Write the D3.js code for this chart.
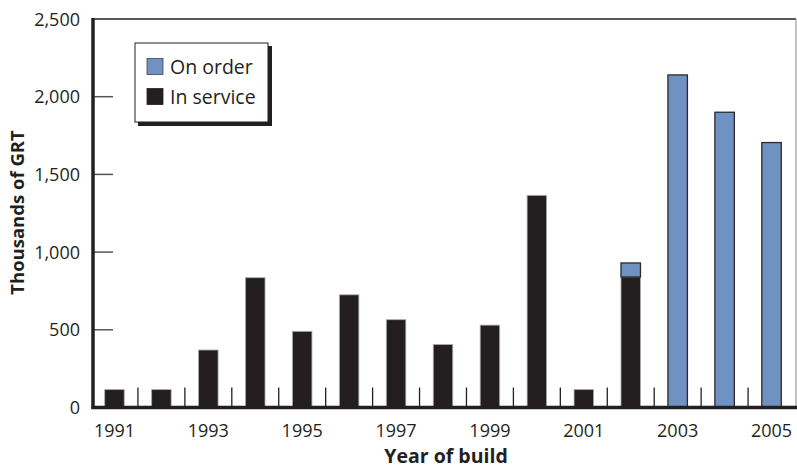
<!DOCTYPE html>
<html><head><meta charset="utf-8">
<script src="https://cdn.jsdelivr.net/npm/d3@7"></script>
<style>body{margin:0;background:#fff}svg{display:block}text{font-family:"Open Sans",sans-serif;fill:#231f20}</style>
</head><body>
<svg id="c" width="797" height="469"></svg>
<script>
const years = [1991,1992,1993,1994,1995,1996,1997,1998,1999,2000,2001,2002,2003,2004,2005];
const inService = [115,115,370,835,490,725,565,405,530,1365,115,840,0,0,0];
const onOrder = [0,0,0,0,0,0,0,0,0,0,0,90,2140,1900,1705];
const yTicks = [0,500,1000,1500,2000,2500];
const xLabels = [1991,1993,1995,1997,1999,2001,2003,2005];
const seriesNames = ["On order","In service"];
const colors = {"On order":"#7092c2","In service":"#231f20"};

const svg = d3.select("#c");
const L=93, R=796, T=19, B=407.5;
const x = d3.scaleBand().domain(years).range([91,795]).paddingInner(0.585).paddingOuter(0.2925);
const y = d3.scaleLinear().domain([0,2500]).range([B,T]);

// frame top and right
svg.append("line").attr("x1",L).attr("x2",R).attr("y1",T).attr("y2",T).attr("stroke","#231f20").attr("stroke-width",1.6);
svg.append("line").attr("x1",R).attr("x2",R).attr("y1",T).attr("y2",B).attr("stroke","#999").attr("stroke-width",1.2);

// bars
const data = years.map((yr,i)=>({yr, s:inService[i], o:onOrder[i]}));
svg.selectAll(".bs").data(data.filter(d=>d.s>0)).enter().append("rect")
  .attr("x",d=>x(d.yr)).attr("width",x.bandwidth())
  .attr("y",d=>y(d.s)).attr("height",d=>y(0)-y(d.s))
  .attr("fill",colors["In service"]).attr("stroke","#aaa").attr("stroke-width",0.8);
svg.selectAll(".bo").data(data.filter(d=>d.o>0)).enter().append("rect")
  .attr("x",d=>x(d.yr)).attr("width",x.bandwidth())
  .attr("y",d=>y(d.s+d.o)).attr("height",d=>y(d.s)-y(d.s+d.o))
  .attr("fill",colors["On order"]).attr("stroke","#2a2a2a").attr("stroke-width",1.3);

// x minor ticks between bands
const step = x.step();
svg.selectAll(".xt").data(years.slice(1)).enter().append("line")
  .attr("x1",d=>x(d)-(step-x.bandwidth())/2).attr("x2",d=>x(d)-(step-x.bandwidth())/2)
  .attr("y1",B-20).attr("y2",B).attr("stroke","#231f20").attr("stroke-width",1.3);

// y ticks
svg.selectAll(".yt").data(yTicks.filter(v=>v>0 && v<2500)).enter().append("line")
  .attr("x1",L).attr("x2",113).attr("y1",d=>y(d)).attr("y2",d=>y(d))
  .attr("stroke","#555").attr("stroke-width",1.5);
const fmt = d3.format(",");
svg.selectAll(".yl").data(yTicks).enter().append("text")
  .attr("x",80).attr("y",d=>y(d)+6.5).attr("text-anchor","end")
  .attr("font-size",18).text(d=>fmt(d));

// axes lines
svg.append("line").attr("x1",L).attr("x2",L).attr("y1",T-1).attr("y2",B+1.5).attr("stroke","#231f20").attr("stroke-width",3.5);
svg.append("line").attr("x1",L-1.5).attr("x2",797).attr("y1",B).attr("y2",B).attr("stroke","#231f20").attr("stroke-width",3.5);

// x labels
svg.selectAll(".xl").data(xLabels).enter().append("text")
  .attr("x",d=>x(d)+x.bandwidth()/2).attr("y",437).attr("text-anchor","middle")
  .attr("font-size",18).text(d=>d);

// titles
svg.append("text").attr("x",446).attr("y",463).attr("text-anchor","middle")
  .attr("font-size",19.5).attr("font-weight","bold").text("Year of build");
svg.append("text").attr("transform","translate(24,212.5) rotate(-90)").attr("text-anchor","middle")
  .attr("font-size",18.5).attr("font-weight","bold").text("Thousands of GRT");

// legend
const lg = svg.append("g");
lg.append("rect").attr("x",138).attr("y",46).attr("width",134).attr("height",80).attr("fill","#231f20");
lg.append("rect").attr("x",135).attr("y",43).attr("width",133).attr("height",79).attr("fill","#fff").attr("stroke","#231f20").attr("stroke-width",1);
seriesNames.forEach((n,i)=>{
  lg.append("rect").attr("x",147).attr("y",58.5+i*30).attr("width",16).attr("height",16)
    .attr("fill",colors[n]).attr("stroke", i===0?"#444":"#231f20").attr("stroke-width",0.8);
  lg.append("text").attr("x",170).attr("y",73.5+i*30).attr("font-size",19.5).text(n);
});
</script>
</body></html>
